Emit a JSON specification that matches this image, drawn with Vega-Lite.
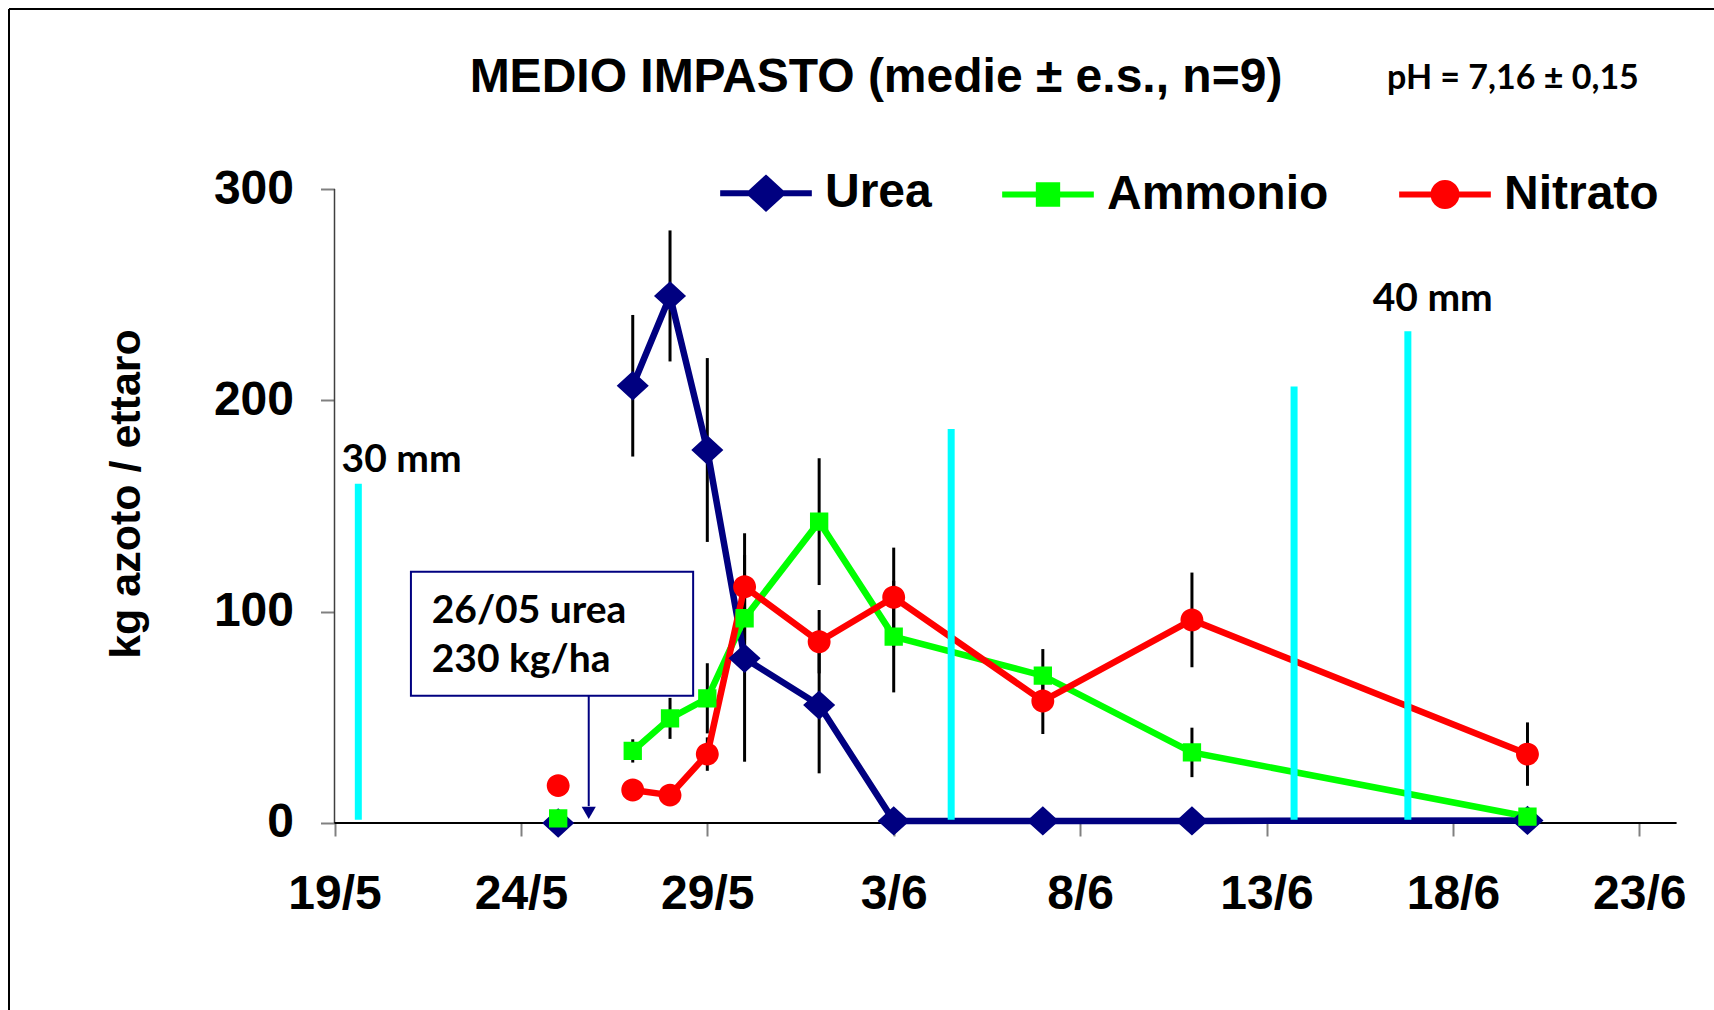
{
  "$schema": "https://vega.github.io/schema/vega-lite/v6.json",
  "width": 1705,
  "height": 1001,
  "autosize": {"type": "none"},
  "padding": {"left": 9, "top": 9, "right": 0, "bottom": 0},
  "background": "white",
  "config": {"view": {"stroke": "black", "strokeWidth": 2, "strokeDash": [1705, 2706, 1001, 0]}, "font": "Liberation Sans"},
  "title": {
    "text": "MEDIO IMPASTO (medie ± e.s., n=9)",
    "font": "Liberation Sans", "fontSize": 48, "fontWeight": "bold", "color": "black",
    "anchor": "middle", "frame": "group", "offset": -131, "dx": 14.5, "baseline": "alphabetic"
  },
  "datasets": {
    "serie": [
      {"series": "Urea", "date": "2011-05-25T00:00", "value": 0, "se": 0, "fase": "a"},
      {"series": "Urea", "date": "2011-05-27T00:00", "value": 206.9, "se": 33.5, "fase": "b"},
      {"series": "Urea", "date": "2011-05-28T00:00", "value": 249.4, "se": 31, "fase": "b"},
      {"series": "Urea", "date": "2011-05-29T00:00", "value": 176.5, "se": 43.5, "fase": "b"},
      {"series": "Urea", "date": "2011-05-30T00:00", "value": 77.9, "se": 48.9, "fase": "b"},
      {"series": "Urea", "date": "2011-06-01T00:00", "value": 55.8, "se": 32.3, "fase": "b"},
      {"series": "Urea", "date": "2011-06-03T00:00", "value": 1, "se": 0, "fase": "b"},
      {"series": "Urea", "date": "2011-06-07T00:00", "value": 1, "se": 0, "fase": "b"},
      {"series": "Urea", "date": "2011-06-11T00:00", "value": 1, "se": 0, "fase": "b"},
      {"series": "Urea", "date": "2011-06-20T00:00", "value": 1.2, "se": 0, "fase": "b"},
      {"series": "Ammonio", "date": "2011-05-25T00:00", "value": 2.2, "se": 0, "fase": "a"},
      {"series": "Ammonio", "date": "2011-05-27T00:00", "value": 34.1, "se": 5.5, "fase": "b"},
      {"series": "Ammonio", "date": "2011-05-28T00:00", "value": 49.5, "se": 9.7, "fase": "b"},
      {"series": "Ammonio", "date": "2011-05-29T00:00", "value": 59.0, "se": 16.6, "fase": "b"},
      {"series": "Ammonio", "date": "2011-05-30T00:00", "value": 96.9, "se": 20, "fase": "b"},
      {"series": "Ammonio", "date": "2011-06-01T00:00", "value": 142.6, "se": 30, "fase": "b"},
      {"series": "Ammonio", "date": "2011-06-03T00:00", "value": 88.2, "se": 26.4, "fase": "b"},
      {"series": "Ammonio", "date": "2011-06-07T00:00", "value": 69.7, "se": 12.6, "fase": "b"},
      {"series": "Ammonio", "date": "2011-06-11T00:00", "value": 33.4, "se": 11.7, "fase": "b"},
      {"series": "Ammonio", "date": "2011-06-20T00:00", "value": 3.0, "se": 0, "fase": "b"},
      {"series": "Nitrato", "date": "2011-05-25T00:00", "value": 17.7, "se": 0, "fase": "a"},
      {"series": "Nitrato", "date": "2011-05-27T00:00", "value": 15.6, "se": 0, "fase": "b"},
      {"series": "Nitrato", "date": "2011-05-28T00:00", "value": 13.2, "se": 0, "fase": "b"},
      {"series": "Nitrato", "date": "2011-05-29T00:00", "value": 32.6, "se": 7.9, "fase": "b"},
      {"series": "Nitrato", "date": "2011-05-30T00:00", "value": 111.8, "se": 25.3, "fase": "b"},
      {"series": "Nitrato", "date": "2011-06-01T00:00", "value": 85.8, "se": 15, "fase": "b"},
      {"series": "Nitrato", "date": "2011-06-03T00:00", "value": 106.8, "se": 23.5, "fase": "b"},
      {"series": "Nitrato", "date": "2011-06-07T00:00", "value": 57.7, "se": 15.6, "fase": "b"},
      {"series": "Nitrato", "date": "2011-06-11T00:00", "value": 96.1, "se": 22.4, "fase": "b"},
      {"series": "Nitrato", "date": "2011-06-20T00:00", "value": 32.6, "se": 15, "fase": "b"}
    ],
    "pioggia": [
      {"date": "2011-05-19T15:20", "h": 160.5},
      {"date": "2011-06-04T13:00", "h": 186.4},
      {"date": "2011-06-13T17:45", "h": 206.5},
      {"date": "2011-06-16T19:00", "h": 232.7}
    ],
    "mm": [
      {"label": "30 mm", "date": "2011-05-20T19:10", "v": 166.2},
      {"label": "40 mm", "date": "2011-06-17T11:00", "v": 242.1}
    ]
  },
  "encoding": {
    "x": {
      "type": "temporal",
      "scale": {"domain": [
        {"year": 2011, "month": 5, "date": 10, "hours": 6, "minutes": 27},
        {"year": 2011, "month": 6, "date": 25, "hours": 0, "minutes": 5}
      ]},
      "axis": {
        "values": [
          {"year": 2011, "month": 5, "date": 19},
          {"year": 2011, "month": 5, "date": 24},
          {"year": 2011, "month": 5, "date": 29},
          {"year": 2011, "month": 6, "date": 3},
          {"year": 2011, "month": 6, "date": 8},
          {"year": 2011, "month": 6, "date": 13},
          {"year": 2011, "month": 6, "date": 18},
          {"year": 2011, "month": 6, "date": 23}
        ],
        "format": "%-d/%-m", "offset": -187, "domain": false, "grid": false,
        "tickSize": 13, "tickColor": "#808080", "tickWidth": 2,
        "labelFont": "Liberation Sans", "labelFontSize": 48, "labelFontWeight": "bold",
        "labelColor": "black", "labelPadding": 34, "labelOverlap": false, "labelFlush": false,
        "title": null
      }
    },
    "y": {
      "type": "quantitative",
      "scale": {"domain": [-88.49, 385.18], "nice": false, "zero": false},
      "axis": {
        "values": [0, 100, 200, 300], "offset": -325.5, "domain": false, "grid": false,
        "tickSize": 14, "tickColor": "#808080", "tickWidth": 2,
        "labelFont": "Liberation Sans", "labelFontSize": 48, "labelFontWeight": "bold",
        "labelColor": "black", "labelPadding": 27,
        "title": "kg azoto / ettaro", "titleFont": "Liberation Sans", "titleFontSize": 43,
        "titleFontWeight": "bold", "titleColor": "black", "titleAngle": 270,
        "titleX": -208.5, "titleY": 484.5, "titleAlign": "center", "titleBaseline": "middle"
      }
    }
  },
  "layer": [
    {
      "data": {"values": [{"date": "2011-05-19T00:00", "v0": 0, "v1": 300}]},
      "mark": {"type": "rule", "color": "#404040", "strokeWidth": 1.5},
      "encoding": {
        "x": {"field": "date"},
        "y": {"field": "v0"},
        "y2": {"field": "v1"}
      }
    },
    {
      "data": {"values": [{"d0": "2011-05-19T00:00", "d1": "2011-06-24T00:00", "v": 0}]},
      "mark": {"type": "rule", "color": "black", "strokeWidth": 2},
      "encoding": {
        "x": {"field": "d0"},
        "x2": {"field": "d1"},
        "y": {"field": "v"}
      }
    },
    {
      "data": {"name": "serie"},
      "transform": [{"filter": "datum.se > 0"}],
      "mark": {"type": "errorbar", "color": "black", "thickness": 3},
      "encoding": {
        "x": {"field": "date"},
        "y": {"field": "value"},
        "yError": {"field": "se"}
      }
    },
    {
      "data": {"name": "serie"},
      "mark": {"type": "line", "strokeWidth": 6.5},
      "encoding": {
        "x": {"field": "date"},
        "y": {"field": "value"},
        "color": {
          "field": "series", "type": "nominal",
          "scale": {"domain": ["Urea", "Ammonio", "Nitrato"], "range": ["#000080", "#00FF00", "#FF0000"]}
        },
        "detail": {"field": "fase"}
      }
    },
    {
      "data": {"name": "serie"},
      "mark": {"type": "point", "filled": true, "size": 8400, "strokeWidth": 0, "opacity": 1},
      "encoding": {
        "x": {"field": "date"},
        "y": {"field": "value"},
        "color": {
          "field": "series", "type": "nominal",
          "scale": {"domain": ["Urea", "Ammonio", "Nitrato"], "range": ["#000080", "#00FF00", "#FF0000"]},
          "legend": {
            "title": null, "orient": "none", "legendX": 708, "legendY": 135, "direction": "horizontal",
            "columns": 3,
            "symbolSize": 8400, "labelFont": "Liberation Sans", "labelFontSize": 48, "labelFontWeight": "bold",
            "labelColor": "black", "labelOffset": 10, "columnPadding": 58, "padding": 0, "labelLimit": 400,
            "symbolStrokeWidth": 6, "symbolOpacity": 1
          }
        },
        "shape": {
          "field": "series", "type": "nominal",
          "scale": {"domain": ["Urea", "Ammonio", "Nitrato"], "range": [
            "M-1,0H1M0,-0.32L0.35,0L0,0.32L-0.35,0Z",
            "M-1,0H1M-0.2,-0.2H0.2V0.2H-0.2Z",
            "M-1,0H1M-0.25,0A0.25,0.25,0,1,0,0.25,0A0.25,0.25,0,1,0,-0.25,0Z"
          ]}
        }
      }
    },
    {
      "data": {"name": "pioggia"},
      "mark": {"type": "rule", "color": "#00FFFF", "strokeWidth": 7},
      "encoding": {
        "x": {"field": "date"},
        "y": {"field": "h"},
        "y2": {"datum": 1.5}
      }
    },
    {
      "data": {"values": [{"d0": "2011-05-21T01:12", "d1": "2011-05-28T14:53", "v0": 118.9, "v1": 60.2}]},
      "mark": {"type": "rect", "fill": "white", "stroke": "#000080", "strokeWidth": 2},
      "encoding": {
        "x": {"field": "d0"},
        "x2": {"field": "d1"},
        "y": {"field": "v0"},
        "y2": {"field": "v1"}
      }
    },
    {
      "data": {"values": [{"label": "26/05 urea\n230 kg/ha", "date": "2011-05-21T14:34", "v": 94.5}]},
      "mark": {"type": "text", "font": "Lato", "fontSize": 39, "fontWeight": "bold", "color": "black",
               "align": "left", "baseline": "alphabetic", "lineBreak": "\n", "lineHeight": 48.4},
      "encoding": {
        "x": {"field": "date"},
        "y": {"field": "v"},
        "text": {"field": "label"}
      }
    },
    {
      "data": {"values": [{"date": "2011-05-25T19:40", "v0": 60.2, "v1": 8}]},
      "mark": {"type": "rule", "color": "#000080", "strokeWidth": 2},
      "encoding": {
        "x": {"field": "date"},
        "y": {"field": "v0"},
        "y2": {"field": "v1"}
      }
    },
    {
      "data": {"values": [{"date": "2011-05-25T19:40", "v": 4.8}]},
      "mark": {"type": "point", "shape": "triangle-down", "filled": true, "size": 200, "color": "#000080", "opacity": 1},
      "encoding": {
        "x": {"field": "date"},
        "y": {"field": "v"}
      }
    },
    {
      "data": {"name": "mm"},
      "mark": {"type": "text", "font": "Lato", "fontSize": 39, "fontWeight": "bold", "color": "black",
               "align": "center", "baseline": "alphabetic"},
      "encoding": {
        "x": {"field": "date"},
        "y": {"field": "v"},
        "text": {"field": "label"}
      }
    },
    {
      "data": {"values": [{"label": "pH = 7,16 ± 0,15", "date": "2011-06-19T14:40", "v": 347.2}]},
      "mark": {"type": "text", "font": "Lato", "fontSize": 34, "fontWeight": "bold", "color": "black",
               "align": "center", "baseline": "alphabetic"},
      "encoding": {
        "x": {"field": "date"},
        "y": {"field": "v"},
        "text": {"field": "label"}
      }
    }
  ]
}
